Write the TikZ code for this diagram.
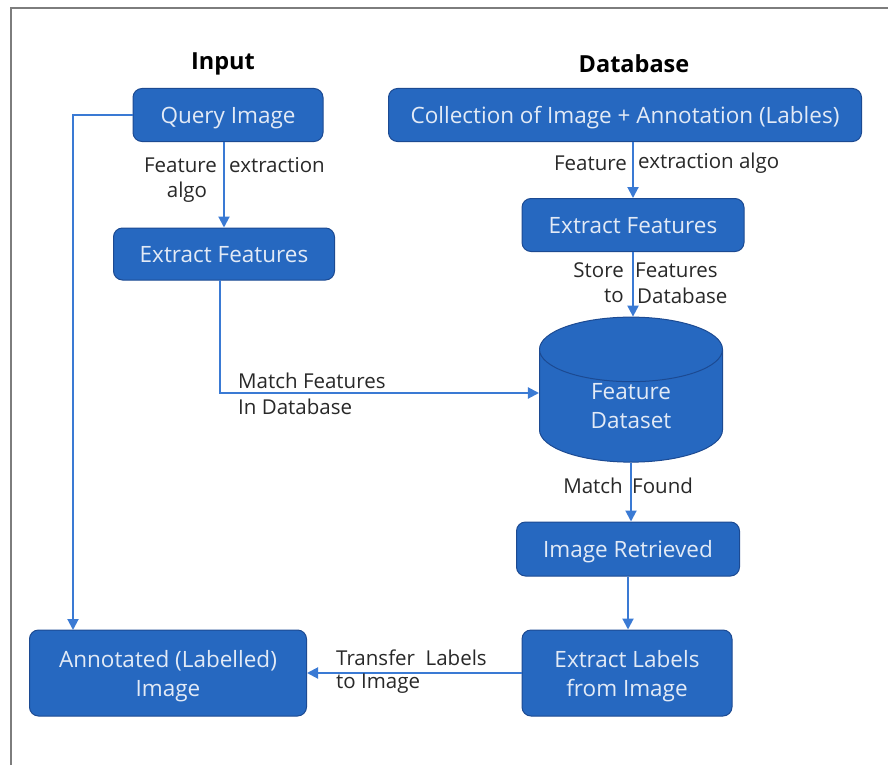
\documentclass[tikz,border=0pt]{standalone}
\usepackage{fontspec}
\setmainfont{Open Sans}
\usepackage{xcolor}
\usetikzlibrary{arrows.meta}
\usetikzlibrary{positioning}
\usetikzlibrary{shapes.geometric}

\definecolor{boxblue}{RGB}{38,104,192}
\definecolor{boxedge}{RGB}{28,74,146}
\definecolor{boxtext}{RGB}{226,234,246}
\definecolor{lineblue}{RGB}{58,122,212}
\definecolor{labelgray}{RGB}{40,40,40}
\definecolor{framegray}{RGB}{125,125,125}

\tikzset{
  lbl/.style={text=labelgray,font=\fontsize{20.5}{24}\selectfont,inner sep=0pt},
  title/.style={font=\fontsize{23.5}{28}\selectfont\bfseries,inner sep=0pt}
}

\begin{document}
\begin{tikzpicture}[x=1pt,y=-1pt]
  \useasboundingbox (0,0) rectangle (888,765);
  \draw[framegray,line width=1.5pt] (11,765) -- (11,8) -- (888,8);

  \node[title] (inputhead) at (223,64) {Input};
  \node[title] (dbhead) at (634,64) {Database};

  \begin{scope}[every node/.style={rounded corners=9pt,fill=boxblue,draw=boxedge,line width=1pt,text=boxtext,font=\fontsize{22.5}{29}\selectfont,inner sep=0pt,text depth=0pt,align=center}]
    \node[minimum width=190pt,minimum height=53pt] (query) at (228,115) {Query Image};
    \node[minimum width=473pt,minimum height=53pt] (collection) at (625,115) {Collection of Image + Annotation (Lables)};
    \node[minimum width=221pt,minimum height=52pt] (qfeat) at (224,254) {Extract Features};
    \node[minimum width=222pt,minimum height=53pt] (dbfeat) at (633,225) {Extract Features};
    \node[sharp corners,cylinder,shape border rotate=90,aspect=0.8,minimum width=183pt,minimum height=145pt] (featset) at (631,406) {Feature\\Dataset};
    \node[minimum width=223pt,minimum height=54pt] (retrieved) at (628,549) {Image Retrieved};
    \node[minimum width=210pt,minimum height=86pt] (labels) at (627,673) {Extract Labels\\from Image};
    \node[minimum width=277pt,minimum height=86pt] (annot) at (168,673) {Annotated (Labelled)\\Image};
  \end{scope}

  \coordinate (leftrail) at (73,630);
  \coordinate (matchrail) at (220,280);

  \begin{scope}[every edge/.style={draw=lineblue,line width=2pt,-{Triangle[length=11pt,width=11pt]}}]
    \path (qfeat.north |- query.south) edge (qfeat.north);
    \path (collection.south -| dbfeat.north) edge (dbfeat.north);
    \path (dbfeat.south) edge (dbfeat.south |- featset.north);
    \path (featset.south) edge (featset.south |- retrieved.north);
    \path (retrieved.south) edge (retrieved.south |- labels.north);
    \path (labels.west) edge (annot.east);
  \end{scope}
  \draw[lineblue,line width=2pt,-{Triangle[length=11pt,width=11pt]}] (matchrail) |- ([yshift=13pt]featset.west);
  \draw[lineblue,line width=2pt,-{Triangle[length=11pt,width=11pt]}] (query.west) -| (leftrail);

  % edge labels
  \node[lbl,anchor=east] (fe1) at (217,165) {Feature};
  \node[lbl,anchor=west] (fe2) at (229,165) {extraction};
  \node[lbl] (fe3) at (187,192) {algo};
  \node[lbl,anchor=east] (fd1) at (627,163) {Feature};
  \node[lbl,anchor=west] (fd2) at (638,163) {extraction algo};
  \node[lbl,anchor=east] (st1) at (624,270) {Store};
  \node[lbl,anchor=west] (st2) at (635,270) {Features};
  \node[lbl,anchor=east] (st3) at (624,296) {to};
  \node[lbl,anchor=west] (st4) at (637,296) {Database};
  \node[lbl,anchor=west] (mf1) at (238,381) {Match Features};
  \node[lbl,anchor=west] (mf2) at (238,407) {In Database};
  \node[lbl,anchor=east] (mt1) at (623,486) {Match};
  \node[lbl,anchor=west] (mt2) at (632,486) {Found};
  \node[lbl,anchor=west] (tl1) at (336,658) {Transfer\ \ Labels};
  \node[lbl,anchor=west] (tl2) at (336,684) {to Image};
\end{tikzpicture}
\end{document}
